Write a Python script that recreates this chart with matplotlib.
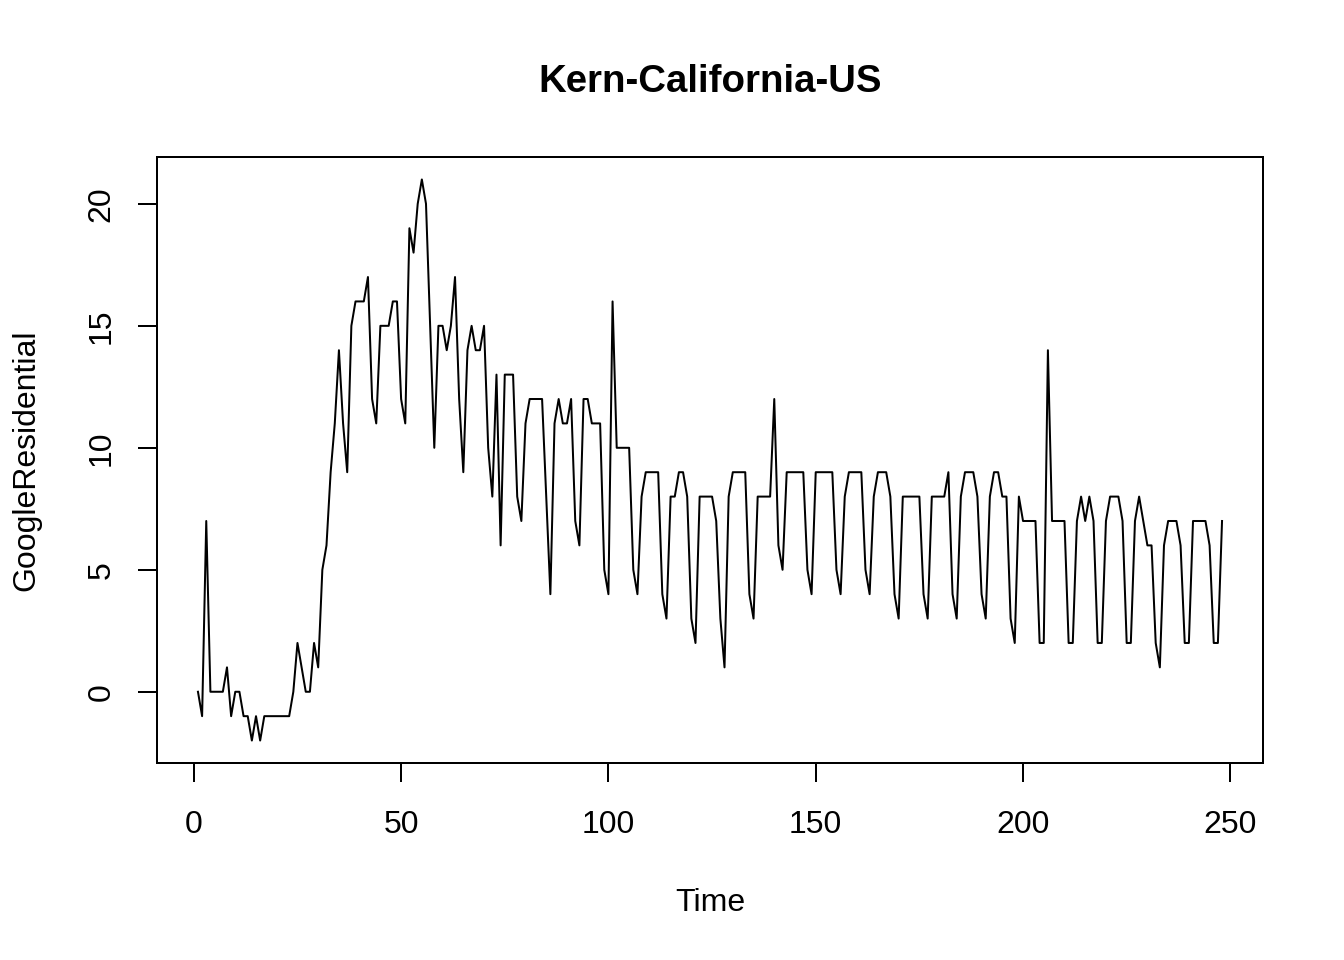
import matplotlib
matplotlib.use("Agg")
import matplotlib.pyplot as plt
import numpy as np

plt.rcParams['font.family'] = ['Liberation Sans', 'DejaVu Sans']

title = "Kern-California-US"
x_label = "Time"
y_label = "GoogleResidential"

google_residential = [
    0, -1, 7, 0, 0, 0, 0, 1, -1, 0,
    0, -1, -1, -2, -1, -2, -1, -1, -1, -1,
    -1, -1, -1, 0, 2, 1, 0, 0, 2, 1,
    5, 6, 9, 11, 14, 11, 9, 15, 16, 16,
    16, 17, 12, 11, 15, 15, 15, 16, 16, 12,
    11, 19, 18, 20, 21, 20, 15, 10, 15, 15,
    14, 15, 17, 12, 9, 14, 15, 14, 14, 15,
    10, 8, 13, 6, 13, 13, 13, 8, 7, 11,
    12, 12, 12, 12, 8, 4, 11, 12, 11, 11,
    12, 7, 6, 12, 12, 11, 11, 11, 5, 4,
    16, 10, 10, 10, 10, 5, 4, 8, 9, 9,
    9, 9, 4, 3, 8, 8, 9, 9, 8, 3,
    2, 8, 8, 8, 8, 7, 3, 1, 8, 9,
    9, 9, 9, 4, 3, 8, 8, 8, 8, 12,
    6, 5, 9, 9, 9, 9, 9, 5, 4, 9,
    9, 9, 9, 9, 5, 4, 8, 9, 9, 9,
    9, 5, 4, 8, 9, 9, 9, 8, 4, 3,
    8, 8, 8, 8, 8, 4, 3, 8, 8, 8,
    8, 9, 4, 3, 8, 9, 9, 9, 8, 4,
    3, 8, 9, 9, 8, 8, 3, 2, 8, 7,
    7, 7, 7, 2, 2, 14, 7, 7, 7, 7,
    2, 2, 7, 8, 7, 8, 7, 2, 2, 7,
    8, 8, 8, 7, 2, 2, 7, 8, 7, 6,
    6, 2, 1, 6, 7, 7, 7, 6, 2, 2,
    7, 7, 7, 7, 6, 2, 2, 7,
]
time_index = np.arange(1, len(google_residential) + 1)

x_ticks = [0, 50, 100, 150, 200, 250]
y_ticks = [0, 5, 10, 15, 20]

fig = plt.figure(figsize=(7, 5), dpi=192)
ax = fig.add_axes([157 / 1344, 1 - 763 / 960, (1263 - 157) / 1344, (763 - 157) / 960])

ax.plot(time_index, google_residential, color="black", linewidth=0.75)

n = len(google_residential)
xr = (n - 1) * 0.04
ax.set_xlim(1 - xr, n + xr)
ymin, ymax = min(google_residential), max(google_residential)
yr = (ymax - ymin) * 0.04
ax.set_ylim(ymin - yr, ymax + yr)

ax.set_xticks(x_ticks)
ax.set_yticks(y_ticks)
ax.set_yticklabels([str(v) for v in y_ticks], rotation=90, va="center")
ax.tick_params(axis="both", direction="out", length=7.2, width=0.75,
               labelsize=12, color="black")
ax.tick_params(axis="x", pad=10.3)
ax.tick_params(axis="y", pad=8)

for s in ax.spines.values():
    s.set_linewidth(0.75)
    s.set_color("black")

ax.set_xlabel(x_label, fontsize=12, labelpad=18)
ax.set_ylabel(y_label, fontsize=12, labelpad=17)
ax.set_title(title, fontsize=14.4, fontweight="bold", pad=24.3)

fig.savefig("out.png", dpi=192)
